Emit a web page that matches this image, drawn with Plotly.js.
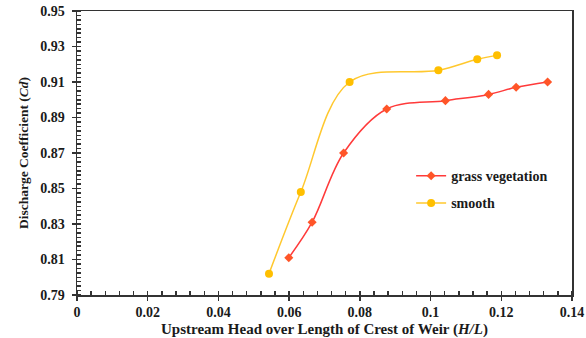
<!DOCTYPE html>
<html>
<head>
<meta charset="utf-8">
<script src="https://cdn.plot.ly/plotly-3.0.1.min.js"></script>
<style>html,body{margin:0;padding:0;background:#fff;}#chart{width:586px;height:338px;}</style>
</head>
<body>
<div id="chart"></div>
<script>
const grassX = [0.0599, 0.0665, 0.0754, 0.0876, 0.1042, 0.1164, 0.1242, 0.1331];
const grassY = [0.811, 0.831, 0.870, 0.8948, 0.8995, 0.903, 0.907, 0.910];
const smoothX = [0.0543, 0.0633, 0.0771, 0.1022, 0.1132, 0.1188];
const smoothY = [0.802, 0.848, 0.910, 0.9166, 0.9228, 0.925];
const seriesNames = ["grass vegetation", "smooth"];

const serif = "Liberation Serif, Times New Roman, serif";

const traces = [
  {
    x: grassX, y: grassY, name: seriesNames[0], type: "scatter", mode: "lines+markers",
    line: {color: "#FF3A3A", width: 1.5, shape: "spline", smoothing: 1},
    marker: {color: "#FF5528", symbol: "diamond", size: 7},
    legendgroup: "g1"
  },
  {
    x: smoothX, y: smoothY, name: seriesNames[1], type: "scatter", mode: "lines+markers",
    line: {color: "#FFC82E", width: 1.5, shape: "spline", smoothing: 1},
    marker: {color: "#FFBF00", symbol: "circle", size: 8},
    legendgroup: "g2"
  }
];

const tickFont = {family: serif, size: 14, color: "#1a1a1a", weight: "bold"};
const layout = {
  width: 586, height: 338,
  margin: {l: 77, r: 14, t: 11, b: 43},
  paper_bgcolor: "#fff", plot_bgcolor: "#fff",
  showlegend: true,
  legend: {x: 0.675, y: 0.475, xanchor: "left", yanchor: "top", bgcolor: "rgba(0,0,0,0)",
           font: {family: serif, size: 14, color: "#1a1a1a", weight: "bold"}, tracegroupgap: 6},
  xaxis: {
    range: [0, 0.14], dtick: 0.02, tick0: 0, showgrid: false, zeroline: false,
    showline: true, linecolor: "#333", linewidth: 1.5, mirror: true,
    ticks: "outside", ticklen: 4, tickcolor: "#333", tickwidth: 1.5,
    minor: {dtick: 0.004, ticks: "inside", ticklen: 4, tickcolor: "#333", tickwidth: 1.5, showgrid: false},
    tickfont: tickFont,
    title: {text: "Upstream Head over Length of Crest of Weir (<i>H/L</i>)", standoff: 4,
            font: {family: serif, size: 15, color: "#1a1a1a", weight: "bold"}}
  },
  yaxis: {
    range: [0.79, 0.95], dtick: 0.02, tick0: 0.79, showgrid: false, zeroline: false,
    showline: true, linecolor: "#333", linewidth: 1.5, mirror: true,
    ticks: "outside", ticklen: 4, tickcolor: "#333", tickwidth: 1.5, ticklabelstandoff: 4,
    minor: {dtick: 0.0025, ticks: "inside", ticklen: 4, tickcolor: "#333", tickwidth: 1.5, showgrid: false},
    tickfont: tickFont,
    title: {text: "Discharge Coefficient (<i>Cd</i>)", standoff: 8,
            font: {family: serif, size: 13.5, color: "#1a1a1a", weight: "bold"}}
  },
  xaxis2: {overlaying: "x", matches: "x", anchor: "y", side: "bottom", range: [0, 0.14], dtick: 0.02, tick0: 0,
           ticks: "inside", ticklen: 4, tickcolor: "#333", tickwidth: 1.5, showticklabels: false,
           showline: false, showgrid: false, zeroline: false},
  yaxis2: {overlaying: "y", matches: "y", anchor: "x", side: "left", range: [0.79, 0.95], dtick: 0.02, tick0: 0.79,
           ticks: "inside", ticklen: 4, tickcolor: "#333", tickwidth: 1.5, showticklabels: false,
           showline: false, showgrid: false, zeroline: false}
};

Plotly.newPlot("chart", traces, layout, {displayModeBar: false, staticPlot: true});
</script>
</body>
</html>
